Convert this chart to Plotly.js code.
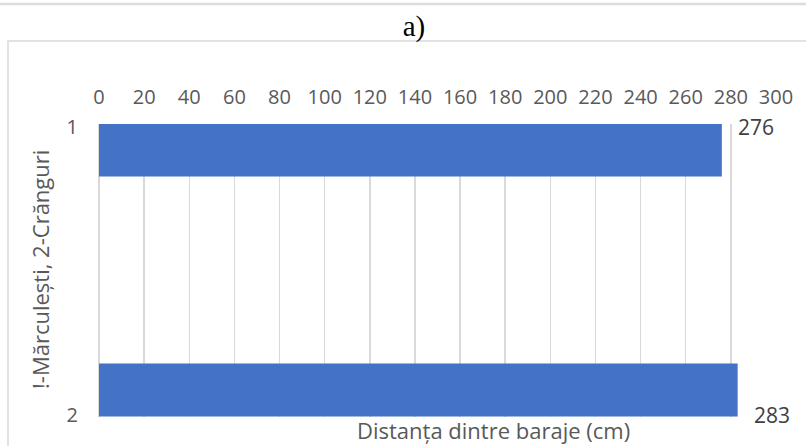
<!DOCTYPE html>
<html>
<head>
<meta charset="utf-8">
<script src="https://cdn.plot.ly/plotly-3.0.1.min.js"></script>
<style>
  html, body { margin: 0; padding: 0; background: #ffffff; }
  #chart { width: 806px; height: 446px; }
</style>
</head>
<body>
<div id="chart"></div>
<script>
// Distance between dams at the two sites (1 - Mărculești, 2 - Crănguri)
const sites = [1, 2];
const siteLabels = ['1', '2'];
const distances = [276, 283];
const xTicks = [0, 20, 40, 60, 80, 100, 120, 140, 160, 180, 200, 220, 240, 260, 280, 300];

// Plot area geometry in pixels
const W = 806, H = 446;
const M = { l: 99, r: 30, t: 124, b: 29 };
const plotW = W - M.l - M.r;
const plotH = H - M.t - M.b;
const px = x => (x - M.l) / plotW;             // pixel x -> paper x
const py = y => (H - M.b - y) / plotH;         // pixel y -> paper y

// value-axis range of the site axis (reversed: 1 on top)
const yTop = 0.8917, yBottom = 2.1125;
const unitPx = plotH / (yBottom - yTop);
// site tick labels sit at the ends of the axis
const siteTickPos = [yTop + 3 / unitPx, yBottom - 2 / unitPx];

const tickFont = { family: 'Open Sans, sans-serif', size: 20, color: '#595959' };
const titleFont = { family: 'Open Sans, sans-serif', size: 22, color: '#595959' };

const trace = {
  type: 'bar',
  orientation: 'h',
  x: distances,
  y: sites,
  width: 0.22,
  marker: { color: '#4472C4' },
  hoverinfo: 'x+y'
};

const annotations = distances.map((d, i) => ({
  x: d, y: siteTickPos[i], xref: 'x', yref: 'y',
  text: String(d), showarrow: false,
  xanchor: 'left', yanchor: 'middle', xshift: 14,
  font: { family: 'Open Sans, sans-serif', size: 21, color: '#404040' }
}));

annotations.push({
  xref: 'paper', yref: 'paper', x: px(494), y: py(430),
  text: 'Distanța dintre baraje (cm)', showarrow: false,
  xanchor: 'center', yanchor: 'middle',
  font: titleFont
});
annotations.push({
  xref: 'paper', yref: 'paper', x: px(40), y: py(270),
  text: '!-Mărculești, 2-Crănguri', showarrow: false, textangle: -90,
  xanchor: 'center', yanchor: 'middle',
  font: titleFont
});

const layout = {
  width: W, height: H,
  margin: M,
  paper_bgcolor: '#ffffff',
  plot_bgcolor: '#ffffff',
  showlegend: false,
  title: {
    text: 'a)',
    xref: 'container', yref: 'container',
    x: 414 / W, y: 1 - 26 / H,
    xanchor: 'center', yanchor: 'middle',
    font: { family: 'Liberation Serif, Times New Roman, serif', size: 29, color: '#000000' }
  },
  xaxis: {
    side: 'top',
    range: [0, 300],
    tickvals: xTicks,
    ticktext: xTicks.map(String),
    showgrid: true, gridcolor: '#d9d9d9', gridwidth: 1.5,
    zeroline: true, zerolinecolor: '#d9d9d9', zerolinewidth: 1.5,
    showline: false, ticks: '',
    ticklabelstandoff: 15,
    tickfont: tickFont,
    fixedrange: true
  },
  yaxis: {
    range: [yBottom, yTop],
    tickvals: siteTickPos,
    ticktext: siteLabels,
    showgrid: false, zeroline: false, showline: false, ticks: '',
    ticklabelstandoff: 20,
    tickfont: tickFont,
    fixedrange: true
  },
  annotations: annotations,
  shapes: [
    // chart frame
    { type: 'rect', xref: 'paper', yref: 'paper', layer: 'below',
      x0: px(8), x1: px(812), y0: py(452), y1: py(41),
      line: { color: '#d9d9d9', width: 1.5 } },
    // separator line at the top of the page
    { type: 'line', xref: 'paper', yref: 'paper', layer: 'below',
      x0: px(-2), x1: px(810), y0: py(4), y1: py(4),
      line: { color: '#dcdcdc', width: 2.5 } }
  ]
};

Plotly.newPlot('chart', [trace], layout, { displayModeBar: false, staticPlot: true });
</script>
</body>
</html>
